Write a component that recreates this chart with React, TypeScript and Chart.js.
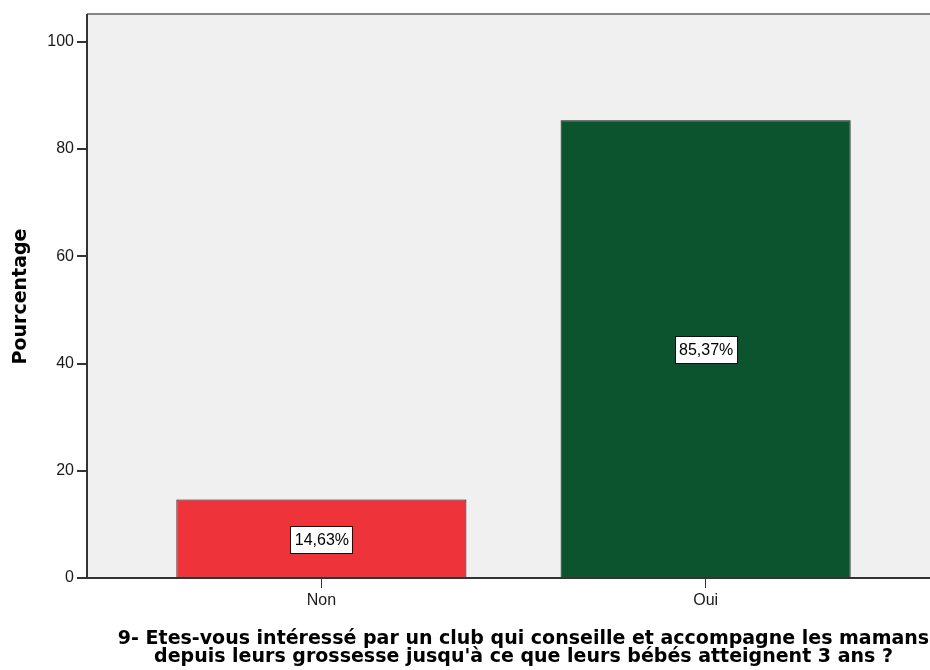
import React, { useEffect, useRef } from 'react';
import { Chart, registerables } from 'chart.js';

Chart.register(...registerables);

const categories = ['Non', 'Oui'];
const percentages = [14.63, 85.37];
const barColors = ['#EF333B', '#0B542D'];
const yTicks = [0, 20, 40, 60, 80, 100];
const yTitle = 'Pourcentage';
const xTitle = [
  "9- Etes-vous intéressé par un club qui conseille et accompagne les mamans",
  "depuis leurs grossesse jusqu'à ce que leurs bébés atteignent 3 ans ?",
];
const Y_MAX = 105.0;
const X_MIN = -0.61;
const X_MAX = 1.662;

const FONT = '"Liberation Sans", Arial, sans-serif';
const TITLE_FONT = '"DejaVu Sans", "Liberation Sans", sans-serif';
const valueLabels = percentages.map((v) => v.toFixed(2).replace('.', ',') + '%');

const plotBg = {
  id: 'plotBg',
  beforeDraw(chart: any) {
    const { ctx, chartArea: a } = chart;
    ctx.save();
    ctx.fillStyle = '#F0F0F0';
    ctx.fillRect(a.left, a.top, a.right - a.left, a.bottom - a.top);
    ctx.strokeStyle = '#858585';
    ctx.lineWidth = 2;
    ctx.beginPath();
    ctx.moveTo(a.left, a.top - 1);
    ctx.lineTo(a.right, a.top - 1);
    ctx.stroke();
    ctx.restore();
  },
};

const valueLabelPlugin = {
  id: 'valueLabels',
  afterDatasetsDraw(chart: any) {
    const { ctx } = chart;
    const meta = chart.getDatasetMeta(0);
    ctx.save();
    ctx.font = `16px ${FONT}`;
    ctx.textAlign = 'center';
    ctx.textBaseline = 'middle';
    meta.data.forEach((bar: any, i: number) => {
      const { x, y, base } = bar.getProps(['x', 'y', 'base'], true);
      const cy = (y + base) / 2 + 1;
      const text = valueLabels[i];
      const w = Math.round(ctx.measureText(text).width + 8);
      const h = 27;
      const left = Math.round(x - w / 2) + 0.5;
      const top = Math.round(cy - h / 2) + 0.5;
      ctx.fillStyle = '#ffffff';
      ctx.fillRect(left, top, w, h);
      ctx.strokeStyle = '#111111';
      ctx.lineWidth = 1;
      ctx.strokeRect(left, top, w, h);
      ctx.fillStyle = '#000000';
      ctx.fillText(text, x + 0.5, cy + 1);
    });
    ctx.restore();
  },
};

export default function App() {
  const ref = useRef<HTMLCanvasElement | null>(null);

  useEffect(() => {
    if (!ref.current) return;
    const chart = new Chart(ref.current, {
      type: 'bar',
      data: {
        datasets: [
          {
            data: categories.map((c, i) => ({ x: i, y: percentages[i] })),
            backgroundColor: barColors,
            borderColor: '#111111',
            borderWidth: 1,
            categoryPercentage: 1,
            barPercentage: 0.755,
          },
        ],
      },
      options: {
        animation: false,
        responsive: false,
        layout: { padding: { top: 15, left: 0, right: 0, bottom: 0 } },
        plugins: {
          legend: { display: false },
          tooltip: { enabled: false },
        },
        scales: {
          x: {
            type: 'linear',
            offset: false,
            min: X_MIN,
            max: X_MAX,
            afterBuildTicks: (scale: any) => {
              scale.ticks = categories.map((_, i) => ({ value: i }));
            },
            afterFit: (scale: any) => {
              scale.height = 92;
            },
            ticks: {
              callback: (v: any) => categories[v] ?? '',
              font: { family: FONT, size: 16 },
              color: '#1a1a1a',
              padding: 3,
              maxRotation: 0,
              autoSkip: false,
            },
            grid: {
              display: true,
              offset: false,
              drawOnChartArea: false,
              drawTicks: true,
              tickLength: 10,
              color: '#333',
              lineWidth: 1,
            },
            border: { display: true, color: '#333', width: 2 },
            title: {
              display: true,
              text: xTitle,
              color: '#000',
              font: { family: TITLE_FONT, size: 19, weight: 'bold', lineHeight: '18px' },
              padding: { top: 0, bottom: 3.5 },
            },
          },
          y: {
            type: 'linear',
            min: 0,
            max: Y_MAX,
            afterBuildTicks: (scale: any) => {
              scale.ticks = yTicks.map((v) => ({ value: v }));
            },
            afterFit: (scale: any) => {
              scale.width = 87;
            },
            ticks: {
              font: { family: FONT, size: 16 },
              color: '#1a1a1a',
              padding: 3,
            },
            grid: {
              display: true,
              drawOnChartArea: false,
              drawTicks: true,
              tickLength: 10,
              color: '#333',
              lineWidth: 2,
            },
            border: { display: true, color: '#333', width: 2 },
            title: {
              display: true,
              text: yTitle,
              color: '#000',
              font: { family: TITLE_FONT, size: 19, weight: 'bold', lineHeight: '22px' },
              padding: { top: 10, bottom: 0 },
            },
          },
        },
      },
      plugins: [plotBg, valueLabelPlugin],
    } as any);
    return () => chart.destroy();
  }, []);

  return (
    <div
      style={{
        position: 'fixed',
        left: 0,
        top: 0,
        width: 930,
        height: 670,
        overflow: 'hidden',
        background: '#ffffff',
      }}
    >
      <canvas ref={ref} width={960} height={670} style={{ display: 'block', width: 960, height: 670 }} />
    </div>
  );
}
